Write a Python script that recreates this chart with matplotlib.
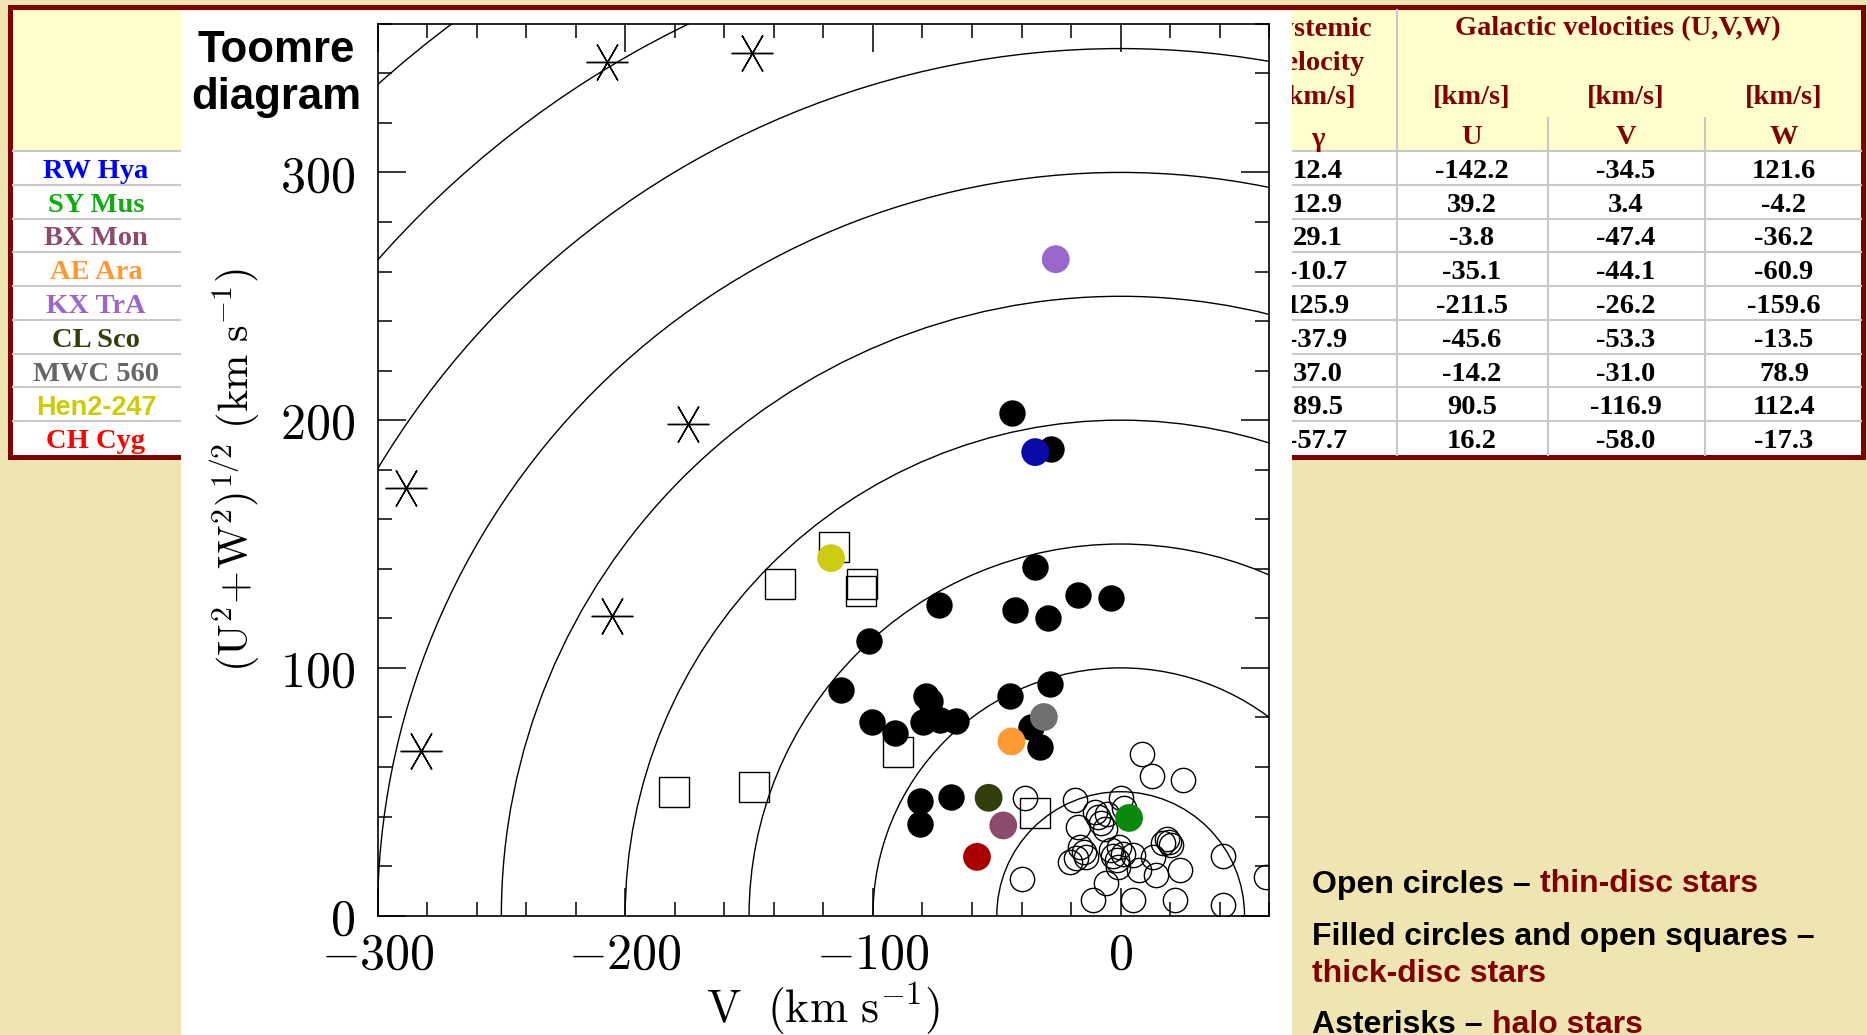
import matplotlib
matplotlib.use("Agg")
import matplotlib.pyplot as plt
import numpy as np
from matplotlib.patches import Rectangle, Circle
from matplotlib.ticker import MultipleLocator, FuncFormatter

plt.rcParams['mathtext.fontset'] = 'cm'

# --- table data (symbiotic stars) ---
stars = ["RW Hya", "SY Mus", "BX Mon", "AE Ara", "KX TrA", "CL Sco", "MWC 560", "Hen2-247", "CH Cyg"]
gamma = [12.4, 12.9, 29.1, -10.7, 125.9, -37.9, 37.0, 89.5, -57.7]
U = [-142.2, 39.2, -3.8, -35.1, -211.5, -45.6, -14.2, 90.5, 16.2]
V = [-34.5, 3.4, -47.4, -44.1, -26.2, -53.3, -31.0, -116.9, -58.0]
W = [121.6, -4.2, -36.2, -60.9, -159.6, -13.5, 78.9, 112.4, -17.3]
name_colors = ['#0000FF', '#11AA11', '#8E4A6E', '#FF9933', '#9966CC', '#333F0A', '#666666', '#CCCC00', '#FF0000']
dot_colors = ['#0A0AA8', '#0A8A0A', '#8B4A6E', '#FF9933', '#9966CC', '#333F0A', '#707070', '#CCCC11', '#AA0000']

# --- Toomre diagram samples ---
halo_V = [-207.3, -148.8, -174.6, -288.4, -205.2, -282.4]
halo_UW = [344.7, 348.4, 198.4, 172.5, 121.1, 66.4]

thick_V = [-43.9, -28.2, -34.4, -17.1, -3.9, -42.6, -29.2, -73.5, -101.4, -112.8,
           -78.5, -76.9, -79.9, -73.1, -66.4, -100.3, -91.2, -44.8, -28.5, -36.0,
           -32.5, -81.0, -68.6, -81.0]
thick_UW = [203.0, 188.5, 140.8, 129.6, 128.2, 123.5, 120.0, 125.4, 110.7, 91.0,
            88.7, 86.8, 78.3, 79.0, 78.7, 78.0, 73.6, 88.8, 93.6, 76.0,
            68.2, 46.1, 47.8, 36.8]

square_V = [-115.8, -137.4, -104.3, -104.7, -89.9, -148.0, -180.3, -34.4]
square_UW = [148.8, 133.7, 133.9, 131.2, 66.2, 51.9, 50.0, 41.4]

thin_V = [8.7, 12.5, 25.0, -38.7, -18.4, 0.0, -17.4, -9.2, -7.8, -10.5,
          -5.5, -6.5, 1.5, -16.6, -17.9, -13.9, -20.6, -15.0, -3.8, -3.1,
          -0.5, -1.5, 1.0, 4.9, 7.6, -5.8, -11.2, 4.9, 13.0, 14.4,
          17.0, 19.7, 20.5, 18.8, 23.8, 21.8, 41.3, 41.3, 58.8, -39.7, -1.0]
thin_UW = [65.3, 56.2, 54.7, 47.4, 46.8, 47.3, 35.9, 40.0, 37.3, 42.0,
           41.0, 35.0, 43.5, 27.8, 23.1, 23.8, 21.8, 25.8, 26.5, 24.2,
           27.5, 22.5, 25.0, 24.5, 18.4, 13.0, 6.3, 6.3, 23.8, 16.3,
           29.2, 29.7, 28.3, 30.8, 18.4, 6.3, 24.1, 4.3, 15.7, 14.7, 19.5]

radii = [50, 100, 150, 200, 250, 300, 350, 400, 450]

# --- figure / slide background ---
W_PX, H_PX = 1867, 1035
beige = '#EFE5B3'
dark_red = '#800000'
fig = plt.figure(figsize=(W_PX / 100, H_PX / 100), dpi=100, facecolor=beige)

bg = fig.add_axes([0, 0, 1, 1])
bg.set_xlim(0, W_PX)
bg.set_ylim(H_PX, 0)
bg.axis('off')

# table frame
top, head_bot, bot = 10, 151, 455
left, right = 13, 1861
row_h = (bot - head_bot) / len(stars)
bg.add_patch(Rectangle((8, 5), 1858, 455, fc=dark_red, ec='none', zorder=1))
bg.add_patch(Rectangle((left, top), right - left, bot - top, fc='white', ec='none', zorder=1.5))
bg.add_patch(Rectangle((left, top), right - left, head_bot - top, fc='#FFFFCC', ec='none', zorder=1.6))
for i in range(len(stars)):
    yl = head_bot + i * row_h
    bg.plot([left, right], [yl, yl], color='#C8C8C8', lw=1.5, zorder=2)
bg.plot([1397, 1397], [top, bot], color='#C8C8C8', lw=1.5, zorder=2)
for xs in [1548, 1705]:
    bg.plot([xs, xs], [118, bot], color='#C8C8C8', lw=1.5, zorder=2)

serif = dict(family='Liberation Serif', weight='bold', fontsize=20.5, ha='center', va='center', zorder=3)
col_x = [1318, 1472, 1626, 1784]
for i, name in enumerate(stars):
    yc = head_bot + (i + 0.5) * row_h + 3.5
    if name == 'Hen2-247':
        bg.text(96, yc, name, color=name_colors[i], family='Liberation Sans', weight='bold',
                fontsize=19.5, ha='center', va='center', zorder=3)
    else:
        bg.text(96, yc, name, color=name_colors[i], **serif)
    for cx, vals in zip(col_x, [gamma, U, V, W]):
        bg.text(cx, yc, f"{vals[i]:.1f}", color='black', **serif)

hdr = dict(serif, color=dark_red)
bg.text(1318, 29, 'Systemic', **hdr)
bg.text(1318, 63, 'velocity', **hdr)
bg.text(1318, 97, '[km/s]', **hdr)
bg.text(1318, 139, 'γ', **hdr)
bg.text(1618, 29, 'Galactic velocities (U,V,W)', **hdr)
for cx, lab in zip(col_x[1:], ['U', 'V', 'W']):
    bg.text(cx, 97, '[km/s]', **hdr)
    bg.text(cx, 137, lab, **hdr)

# white panel holding the diagram
bg.add_patch(Rectangle((181, 10.5), 1111, 1030, fc='white', ec='none', zorder=5))
bg.text(276, 74, 'Toomre\ndiagram', family='Liberation Sans', weight='bold', fontsize=31.5,
        ha='center', va='center', linespacing=1.2, zorder=6)

# legend text bottom right
sans = dict(family='Liberation Sans', weight='bold', fontsize=23, va='center', ha='left', zorder=6)
t1 = bg.text(1312, 884.5, 'Open circles – ', color='black', **sans)
bg.annotate('thin-disc stars', xy=(1, 0.5), xycoords=t1, color=dark_red, **sans)
bg.text(1312, 937, 'Filled circles and open squares –', color='black', **sans)
bg.text(1312, 973.5, 'thick-disc stars', color=dark_red, **sans)
t3 = bg.text(1312, 1025, 'Asterisks – ', color='black', **sans)
bg.annotate('halo stars', xy=(1, 0.5), xycoords=t3, color=dark_red, **sans)

# --- Toomre diagram ---
ax = fig.add_axes([377.5 / W_PX, 1 - 915.6 / H_PX, 891.8 / W_PX, 891.8 / H_PX])
ax.set_facecolor('white')
for r in radii:
    ax.add_patch(Circle((0, 0), r, fill=False, ec='black', lw=1.0, zorder=1))

ax.plot(thin_V, thin_UW, 'o', ms=17.5, mfc='none', mec='black', mew=1.0, zorder=2)
ax.plot(square_V, square_UW, 's', ms=22, mfc='none', mec='black', mew=1.0, zorder=2)
ax.plot(halo_V, halo_UW, marker=(6, 2, 30), ls='none', ms=30, mec='black', mew=1.0, zorder=2)
ax.plot(thick_V, thick_UW, 'o', ms=19, mfc='black', mec='black', mew=0, zorder=3)

toomre_UW = np.hypot(U, W)
ax.scatter(V, toomre_UW, s=20 ** 2, c=dot_colors, edgecolors='none', zorder=4)

ax.set_xlim(-300, 60)
ax.set_ylim(0, 360)
ax.set_xticks([-300, -200, -100, 0])
ax.set_yticks([0, 100, 200, 300])
ax.xaxis.set_minor_locator(MultipleLocator(20))
ax.yaxis.set_minor_locator(MultipleLocator(20))
fmt = FuncFormatter(lambda v, p: f'${v:.0f}$')
ax.xaxis.set_major_formatter(fmt)
ax.yaxis.set_major_formatter(fmt)
ax.tick_params(which='both', direction='in', top=True, right=True, width=1.1)
ax.tick_params(which='major', length=20, labelsize=36)
ax.tick_params(axis='x', which='major', pad=11)
ax.tick_params(axis='y', which='major', pad=16)
ax.tick_params(which='minor', length=10)
for sp in ax.spines.values():
    sp.set_linewidth(1.2)

ax.set_xlabel(r'$\mathrm{V\ \ (km\ s^{-1})}$', fontsize=33, labelpad=1)
ax.set_ylabel(r'$(\mathrm{U}^2\!+\!\mathrm{W}^2)^{1/2}\ (\mathrm{km\ s}^{-1})$', fontsize=30.5, labelpad=13)

fig.savefig('out.png', dpi=100, facecolor=beige)
